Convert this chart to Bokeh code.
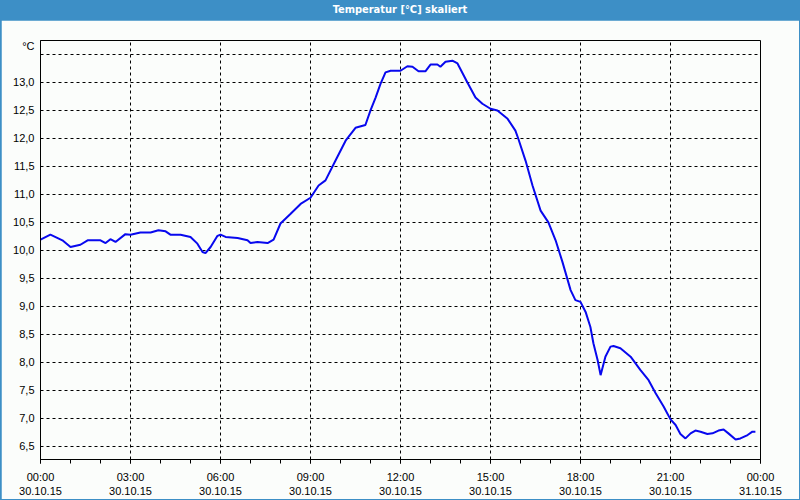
from bokeh.plotting import figure
from bokeh.models import Range1d, FixedTicker, Div
from bokeh.layouts import column
from bokeh.embed import file_html
from bokeh.resources import INLINE

# time of day in hours (30.10.15), temperature in °C
hours = [0.00, 0.33, 0.73, 1.00, 1.33, 1.57, 2.00, 2.17, 2.33, 2.50, 2.83, 3.00,
         3.33, 3.67, 3.93, 4.17, 4.33, 4.67, 5.00, 5.23, 5.40, 5.50, 5.67, 5.90,
         6.00, 6.17, 6.57, 6.90, 7.00, 7.23, 7.57, 7.77, 8.00, 8.33, 8.67, 9.00,
         9.27, 9.50, 9.83, 10.17, 10.50, 10.83, 11.00, 11.17, 11.33, 11.50, 11.67,
         12.00, 12.23, 12.40, 12.60, 12.83, 13.00, 13.23, 13.33, 13.50, 13.73,
         13.90, 14.23, 14.50, 14.73, 15.00, 15.23, 15.57, 15.83, 15.93, 16.17,
         16.40, 16.67, 16.93, 17.17, 17.40, 17.67, 17.83, 18.00, 18.17, 18.33,
         18.43, 18.57, 18.67, 18.83, 19.00, 19.10, 19.33, 19.67, 20.00, 20.27,
         20.50, 20.77, 21.00, 21.17, 21.33, 21.50, 21.67, 21.83, 22.00, 22.23,
         22.40, 22.60, 22.77, 22.93, 23.17, 23.33, 23.57, 23.73, 23.83]
temps = [10.19, 10.28, 10.18, 10.06, 10.10, 10.18, 10.18, 10.13, 10.20, 10.15, 10.29, 10.28,
         10.32, 10.32, 10.36, 10.34, 10.28, 10.28, 10.24, 10.12, 9.97, 9.95, 10.06, 10.26,
         10.28, 10.24, 10.22, 10.18, 10.13, 10.15, 10.13, 10.19, 10.48, 10.65, 10.83, 10.94,
         11.16, 11.25, 11.60, 11.96, 12.19, 12.24, 12.50, 12.73, 12.97, 13.18, 13.21,
         13.21, 13.29, 13.28, 13.20, 13.20, 13.32, 13.32, 13.28, 13.37, 13.39,
         13.34, 13.00, 12.73, 12.62, 12.53, 12.50, 12.35, 12.14, 11.99, 11.60,
         11.16, 10.71, 10.50, 10.18, 9.79, 9.29, 9.11, 9.08, 8.90, 8.63,
         8.34, 8.04, 7.77, 8.10, 8.28, 8.29, 8.25, 8.10, 7.86, 7.68,
         7.45, 7.21, 6.98, 6.88, 6.72, 6.64, 6.73, 6.78, 6.76, 6.72,
         6.73, 6.78, 6.80, 6.73, 6.62, 6.64, 6.70, 6.76, 6.76]

x_ticks = [0, 3, 6, 9, 12, 15, 18, 21, 24]
x_labels = ["00:00\n30.10.15", "03:00\n30.10.15", "06:00\n30.10.15", "09:00\n30.10.15",
            "12:00\n30.10.15", "15:00\n30.10.15", "18:00\n30.10.15", "21:00\n30.10.15",
            "00:00\n31.10.15"]
y_grid = [6.5, 7.0, 7.5, 8.0, 8.5, 9.0, 9.5, 10.0, 10.5, 11.0, 11.5, 12.0, 12.5, 13.0, 13.5]
y_ticks = [6.5, 7.0, 7.5, 8.0, 8.5, 9.0, 9.5, 10.0, 10.5, 11.0, 11.5, 12.0, 12.5, 13.0, 13.65]
y_labels = ["6,5", "7,0", "7,5", "8,0", "8,5", "9,0", "9,5", "10,0", "10,5", "11,0",
            "11,5", "12,0", "12,5", "13,0", "°C"]
title_text = "Temperatur [°C] skaliert"

BLUE = "#3d8fc6"
FONT = "Liberation Sans"

title = Div(text=title_text, width=800, height=20,
            styles={"background-color": BLUE, "color": "white", "font-weight": "bold",
                    "font-family": "'DejaVu Sans Condensed', 'Liberation Sans Narrow', 'Liberation Sans', sans-serif",
                    "font-size": "11px", "text-align": "center", "line-height": "20px",
                    "width": "800px", "height": "20px", "margin": "0", "padding": "0"})

p = figure(width=798, height=479, output_backend="svg", toolbar_location=None,
           x_range=Range1d(0, 24), y_range=Range1d(6.263, 13.75),
           min_border_left=39, min_border_right=39, min_border_top=20, min_border_bottom=39,
           background_fill_color="#fbfdfb", border_fill_color="#fbfdfb")
p.margin = (0, 1, 1, 1)
p.outline_line_color = "black"
p.outline_line_width = 1

p.line(hours, temps, line_color="#0808ee", line_width=2)

p.xaxis.ticker = FixedTicker(ticks=x_ticks, minor_ticks=list(range(0, 25)))
p.xaxis.major_label_overrides = dict(zip(x_ticks, x_labels))
p.yaxis.ticker = FixedTicker(ticks=y_ticks, minor_ticks=[])
p.yaxis.major_label_overrides = dict(zip(y_ticks, y_labels))

for ax in (p.xaxis, p.yaxis):
    ax.axis_line_color = "black"
    ax.major_tick_line_color = "black"
    ax.minor_tick_line_color = "black"
    ax.major_label_text_font = FONT
    ax.major_label_text_font_size = "11px"
    ax.major_label_text_color = "black"
    ax.major_tick_in = 0
    ax.minor_tick_in = 0

p.xaxis.major_tick_out = 4
p.xaxis.minor_tick_out = 4
p.xaxis.major_label_standoff = 7
p.yaxis.major_tick_out = 0
p.yaxis.minor_tick_out = 0
p.yaxis.major_label_standoff = 6

p.xgrid.ticker = FixedTicker(ticks=x_ticks[1:-1])
p.ygrid.ticker = FixedTicker(ticks=y_grid)
for g in (p.xgrid, p.ygrid):
    g.grid_line_color = "black"
    g.grid_line_dash = "3 3"
    g.grid_line_width = 1

layout = column(title, p, spacing=0, styles={"background-color": BLUE})
open("out.html", "w").write(file_html(layout, INLINE))
